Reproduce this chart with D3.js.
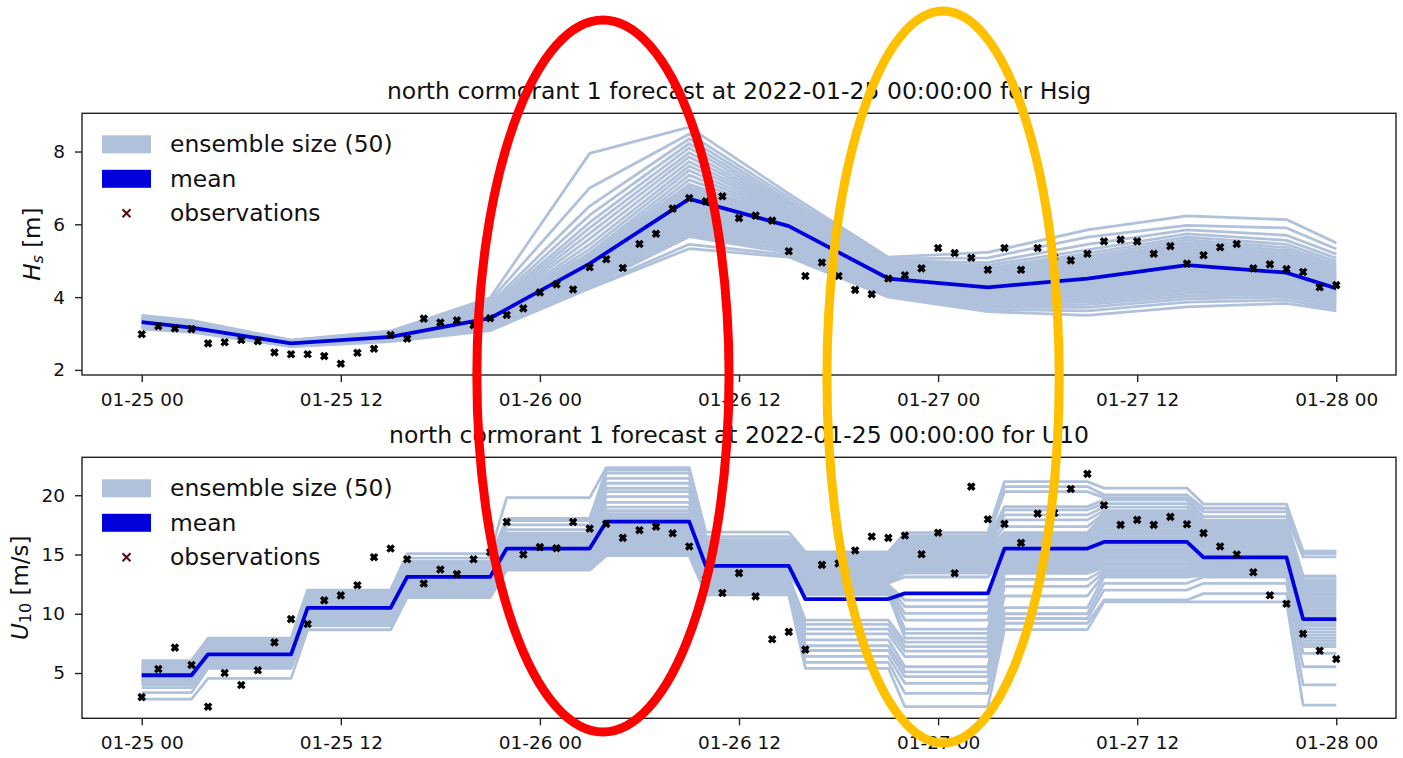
<!DOCTYPE html>
<html>
<head>
<meta charset="utf-8">
<script src="https://cdn.jsdelivr.net/npm/d3@7"></script>
<style>
  body { margin: 0; background: #fff; }
  text { font-family: "DejaVu Sans", sans-serif; }
</style>
</head>
<body>
<svg id="chart" width="1403" height="758"></svg>
<script>
// ---- data (hours after 2022-01-25 00:00 UTC) ----
const hsEnsHours = [0, 3, 9, 15, 21, 27, 33, 39, 45, 51, 57, 63, 69, 72];
// ensemble Hs values at each forecast step, sorted low -> high (one column per member)
const hsEnsemble = [
  [3.12,3.14,3.15,3.17,3.18,3.19,3.20,3.21,3.22,3.23,3.24,3.24,3.25,3.26,3.27,3.27,3.28,3.29,3.29,3.30,3.31,3.31,3.32,3.33,3.33,3.34,3.35,3.36,3.36,3.37,3.38,3.39,3.40,3.41,3.42,3.43,3.44,3.46,3.48,3.50],
  [3.04,3.06,3.07,3.08,3.09,3.10,3.11,3.11,3.12,3.12,3.13,3.13,3.14,3.14,3.15,3.15,3.15,3.16,3.16,3.16,3.17,3.17,3.18,3.18,3.19,3.19,3.20,3.20,3.21,3.22,3.22,3.23,3.24,3.25,3.26,3.27,3.29,3.31,3.33,3.36],
  [2.64,2.65,2.66,2.67,2.67,2.68,2.68,2.69,2.69,2.70,2.70,2.70,2.71,2.71,2.71,2.72,2.72,2.72,2.73,2.73,2.73,2.73,2.74,2.74,2.74,2.75,2.75,2.75,2.76,2.76,2.77,2.77,2.78,2.78,2.79,2.79,2.80,2.81,2.81,2.82],
  [2.78,2.80,2.81,2.82,2.83,2.84,2.84,2.85,2.86,2.86,2.87,2.87,2.88,2.88,2.89,2.89,2.90,2.90,2.90,2.91,2.91,2.92,2.92,2.92,2.93,2.93,2.94,2.94,2.95,2.95,2.96,2.97,2.97,2.98,2.99,3.00,3.01,3.03,3.05,3.07],
  [3.08,3.12,3.15,3.18,3.20,3.22,3.24,3.26,3.27,3.29,3.30,3.31,3.33,3.34,3.35,3.36,3.37,3.38,3.39,3.40,3.41,3.42,3.43,3.44,3.45,3.47,3.48,3.50,3.52,3.54,3.56,3.58,3.61,3.64,3.67,3.71,3.76,3.82,3.90,3.98],
  [4.24,4.27,4.31,4.36,4.38,4.42,4.45,4.46,4.50,4.54,4.57,4.58,4.62,4.66,4.68,4.72,4.75,4.77,4.81,4.84,4.86,4.90,4.93,4.96,4.99,5.02,5.06,5.10,5.14,5.21,5.32,5.45,5.60,5.75,5.90,6.05,6.25,6.50,7.00,7.95],
  [5.33,5.45,5.66,5.70,5.75,5.80,5.86,5.91,5.97,6.02,6.08,6.13,6.19,6.24,6.30,6.35,6.41,6.46,6.52,6.58,6.63,6.69,6.75,6.82,6.88,6.95,7.02,7.10,7.22,7.35,7.48,7.60,7.72,7.85,7.97,8.10,8.22,8.35,8.48,8.67],
  [5.10,5.16,5.22,5.30,5.36,5.42,5.47,5.52,5.56,5.60,5.64,5.68,5.72,5.76,5.80,5.84,5.88,5.91,5.94,5.97,6.00,6.03,6.06,6.09,6.12,6.15,6.18,6.21,6.24,6.27,6.30,6.34,6.38,6.42,6.47,6.52,6.58,6.65,6.74,6.84],
  [4.00,4.06,4.11,4.15,4.19,4.22,4.25,4.28,4.31,4.33,4.36,4.38,4.40,4.42,4.44,4.46,4.48,4.50,4.52,4.54,4.56,4.58,4.60,4.62,4.64,4.66,4.68,4.70,4.72,4.74,4.77,4.80,4.83,4.86,4.89,4.92,4.96,5.00,5.05,5.10],
  [3.60,3.66,3.72,3.77,3.82,3.86,3.90,3.94,3.97,4.00,4.03,4.06,4.09,4.12,4.15,4.17,4.19,4.21,4.24,4.26,4.28,4.31,4.34,4.37,4.40,4.43,4.46,4.49,4.52,4.55,4.58,4.62,4.66,4.70,4.75,4.80,4.87,4.95,5.08,5.23],
  [3.50,3.62,3.72,3.80,3.87,3.93,3.99,4.05,4.10,4.15,4.19,4.23,4.27,4.31,4.35,4.38,4.41,4.44,4.47,4.50,4.53,4.56,4.59,4.62,4.65,4.68,4.72,4.76,4.80,4.84,4.89,4.94,4.99,5.05,5.12,5.20,5.30,5.45,5.65,5.85],
  [3.73,3.86,3.95,4.03,4.10,4.17,4.23,4.29,4.35,4.40,4.45,4.50,4.55,4.60,4.64,4.68,4.72,4.76,4.80,4.84,4.88,4.92,4.96,5.00,5.04,5.08,5.12,5.17,5.22,5.27,5.32,5.38,5.44,5.50,5.57,5.65,5.74,5.85,5.97,6.23],
  [3.83,3.92,4.00,4.07,4.13,4.18,4.23,4.27,4.31,4.35,4.39,4.43,4.47,4.50,4.53,4.56,4.59,4.62,4.65,4.68,4.71,4.74,4.77,4.80,4.83,4.87,4.91,4.95,4.99,5.04,5.09,5.15,5.21,5.28,5.36,5.45,5.56,5.70,5.90,6.13],
  [3.62,3.68,3.74,3.79,3.83,3.87,3.91,3.94,3.97,4.00,4.03,4.06,4.09,4.12,4.15,4.18,4.21,4.24,4.27,4.30,4.33,4.36,4.39,4.42,4.45,4.48,4.51,4.55,4.59,4.63,4.67,4.72,4.77,4.83,4.90,4.98,5.07,5.18,5.32,5.49]
];
const hsMean = [3.31, 3.16, 2.73, 2.91, 3.42, 4.92, 6.70, 5.95, 4.51, 4.27, 4.51, 4.88, 4.67, 4.24];
const hsObs = [
  2.98,3.20,3.14,3.12,2.73,2.76,2.82,2.79,2.48,2.43,
  2.43,2.38,2.17,2.47,2.58,2.96,2.86,3.41,3.30,3.36,
  3.23,3.42,3.51,3.69,4.13,4.35,4.21,4.82,5.04,4.80,
  5.46,5.74,6.43,6.72,6.63,6.77,6.17,6.24,6.10,5.26,
  4.58,4.95,4.58,4.20,4.08,4.51,4.60,4.79,5.35,5.21,
  5.08,4.75,5.35,4.75,5.35,5.10,5.01,5.19,5.53,5.58,
  5.53,5.19,5.40,4.92,5.15,5.37,5.46,4.79,4.90,4.77,
  4.69,4.27,4.33
];

// U10 forecasts are constant over 6-hour blocks
const u10BlockStart = [0, 4, 10, 16, 22, 28, 34, 40, 46, 52, 58, 64, 70];
const u10BlockEnd   = [3, 9, 15, 21, 27, 33, 39, 45, 51, 57, 63, 69, 72];
const u10Ensemble = [
  [2.80,3.35,3.77,4.00,4.06,4.12,4.18,4.24,4.30,4.35,4.40,4.45,4.50,4.55,4.60,4.65,4.70,4.75,4.80,4.85,4.90,4.95,5.00,5.05,5.10,5.15,5.20,5.25,5.30,5.36,5.42,5.48,5.54,5.60,5.66,5.72,5.80,5.88,5.96,6.04],
  [4.55,5.40,5.50,5.60,5.68,5.76,5.84,5.92,6.00,6.07,6.14,6.20,6.26,6.32,6.38,6.44,6.50,6.55,6.60,6.65,6.70,6.75,6.80,6.85,6.90,6.95,7.00,7.05,7.10,7.16,7.22,7.28,7.34,7.40,7.47,7.54,7.62,7.70,7.82,7.94],
  [8.65,9.00,9.20,9.32,9.44,9.55,9.65,9.74,9.83,9.91,9.99,10.07,10.14,10.21,10.28,10.35,10.42,10.49,10.56,10.63,10.70,10.77,10.84,10.91,10.98,11.05,11.12,11.19,11.26,11.33,11.40,11.47,11.54,11.61,11.68,11.75,11.82,11.88,11.94,12.00],
  [11.37,11.50,11.62,11.74,11.85,11.95,12.05,12.15,12.25,12.35,12.45,12.54,12.63,12.72,12.81,12.90,12.98,13.06,13.14,13.22,13.30,13.38,13.46,13.54,13.62,13.70,13.78,13.86,13.94,14.02,14.10,14.17,14.24,14.30,14.34,14.37,14.38,14.40,14.70,15.08],
  [13.68,13.80,13.92,14.04,14.15,14.26,14.37,14.48,14.58,14.68,14.78,14.88,14.97,15.06,15.15,15.24,15.33,15.42,15.51,15.60,15.69,15.78,15.87,15.96,16.05,16.14,16.23,16.32,16.41,16.50,16.58,16.66,16.74,16.80,17.10,17.50,17.85,17.95,18.05,19.80],
  [14.90,15.02,15.14,15.26,15.38,15.50,15.62,15.74,15.86,15.98,16.10,16.22,16.34,16.46,16.58,16.70,16.82,16.94,17.06,17.18,17.30,17.43,17.56,17.69,17.82,17.95,18.10,18.25,18.45,18.70,19.00,19.40,19.88,20.30,20.59,21.01,21.43,21.86,22.13,22.33],
  [11.60,11.80,12.00,12.18,12.35,12.50,12.65,12.80,12.93,13.06,13.18,13.30,13.42,13.53,13.64,13.75,13.86,13.96,14.06,14.16,14.26,14.36,14.46,14.56,14.66,14.76,14.86,14.96,15.06,15.17,15.28,15.40,15.52,15.65,15.78,15.92,16.08,16.26,16.50,16.88],
  [5.40,5.90,6.40,6.90,7.30,7.80,8.30,8.70,9.10,9.47,11.60,11.75,11.90,12.04,12.18,12.32,12.45,12.58,12.71,12.84,12.96,13.08,13.20,13.32,13.44,13.56,13.68,13.80,13.92,14.04,14.16,14.28,14.40,14.52,14.64,14.76,14.88,15.00,15.11,15.22],
  [2.16,3.29,4.13,4.69,5.10,5.53,6.38,6.85,7.22,7.60,7.95,8.34,8.70,9.47,10.03,10.60,11.15,13.10,13.42,13.60,13.78,13.95,14.12,14.28,14.44,14.60,14.75,14.90,15.05,15.20,15.35,15.50,15.65,15.80,15.95,16.10,16.26,16.42,16.60,16.84],
  [8.66,9.20,9.60,10.00,10.52,11.50,12.31,12.90,13.40,13.55,13.70,13.85,14.00,14.15,14.30,14.45,14.60,14.75,14.90,15.05,15.20,15.35,15.50,15.65,15.80,15.95,16.10,16.25,16.40,16.55,16.70,16.85,17.35,17.92,18.34,18.76,19.04,20.30,20.73,21.15],
  [11.00,11.16,12.00,12.57,13.10,13.30,13.50,13.70,13.90,14.10,14.30,14.50,14.70,14.90,15.10,15.30,15.50,15.70,15.90,16.10,16.30,16.50,16.70,16.90,17.10,17.30,17.50,17.70,17.90,18.05,18.20,18.35,18.48,18.70,19.00,19.30,19.60,19.80,20.03,20.60],
  [11.00,11.70,12.57,13.10,13.25,13.40,13.55,13.70,13.85,14.00,14.15,14.30,14.45,14.60,14.75,14.90,15.05,15.20,15.35,15.50,15.65,15.80,15.95,16.10,16.25,16.40,16.55,16.70,16.85,17.00,17.15,17.30,17.45,17.60,17.75,17.90,18.20,18.60,18.90,19.25],
  [2.30,4.00,5.53,6.66,7.22,7.45,7.70,7.95,8.20,8.45,8.70,8.95,9.15,9.35,9.55,9.75,9.95,10.15,10.35,10.55,10.75,10.95,11.15,11.35,11.55,11.72,11.86,12.00,12.15,12.30,12.40,12.52,12.65,12.85,13.10,13.20,14.80,15.08,15.18,15.28]
];
const u10Mean = [4.81, 6.58, 10.50, 13.11, 15.50, 17.77, 14.04, 11.24, 11.72, 15.50, 16.06, 14.75, 9.55];
const u10Obs = [
  2.97,5.34,7.14,5.68,2.16,5.00,3.99,5.23,7.59,9.55,
  9.13,11.13,11.55,12.41,14.77,15.50,14.60,12.55,13.73,13.34,
  14.60,15.20,17.74,15.00,15.62,15.53,17.74,17.18,17.58,16.40,
  17.05,17.35,16.79,15.68,12.90,11.75,13.43,11.47,7.85,8.47,
  6.97,14.12,14.24,15.34,16.52,16.40,16.60,15.02,16.84,13.42,
  20.73,17.97,17.58,15.98,18.45,18.50,20.53,21.80,19.16,17.50,
  17.92,17.50,18.17,17.55,16.80,15.68,15.00,13.50,11.56,10.84,
  8.31,6.88,6.18
];

const xTickHours = [0, 12, 24, 36, 48, 60, 72];
const hsTicks = [2, 4, 6, 8];
const u10Ticks = [5, 10, 15, 20];
const legendLabels = ["ensemble size (50)", "mean", "observations"];
// highlighted forecast windows (hours), drawn over both panels
const highlights = [
  { from: 20.2, to: 35.4, color: "#ff0000" },
  { from: 41.3, to: 55.3, color: "#ffc000" }
];

// ---- drawing ----
const svg = d3.select("#chart");
const start = Date.UTC(2022, 0, 25, 0);
const toDate = h => new Date(start + h * 3600e3);
const ensColor = "#b0c1dc", meanColor = "#0000dd";

const x = d3.scaleTime()
  .domain([toDate(-3.6), toDate(75.6)])
  .range([82, 1396]);

const line = (y) => d3.line().x(d => x(toDate(d[0]))).y(d => y(d[1]));

function xMark(r) { return `M${-r},${-r}L${r},${r}M${-r},${r}L${r},${-r}`; }

function drawPanel(cfg) {
  const y = d3.scaleLinear().domain(cfg.yDomain).range([cfg.bottom, cfg.top]);
  const g = svg.append("g");
  const ln = line(y);

  g.append("g").selectAll("path").data(cfg.members).join("path")
    .attr("d", ln)
    .attr("fill", "none")
    .attr("stroke", ensColor)
    .attr("stroke-width", 2.8)
    .attr("stroke-linejoin", "round");

  g.append("path").datum(cfg.mean)
    .attr("d", ln)
    .attr("fill", "none")
    .attr("stroke", meanColor)
    .attr("stroke-width", 3.8)
    .attr("stroke-linejoin", "round");

  g.append("g").selectAll("path").data(cfg.obs.map((v, h) => [h, v])).join("path")
    .attr("transform", d => `translate(${x(toDate(d[0]))},${y(d[1])})`)
    .attr("d", xMark(3.1))
    .attr("stroke", "#000")
    .attr("stroke-width", 3.4);

  // axes
  const xAxis = d3.axisBottom(x)
    .tickValues(xTickHours.map(toDate))
    .tickFormat(d3.utcFormat("%m-%d %H"))
    .tickSize(7).tickPadding(11).tickSizeOuter(0);
  const gx = g.append("g").attr("transform", `translate(0,${cfg.bottom})`).call(xAxis);
  const yAxis = d3.axisLeft(y).tickValues(cfg.ticks).tickSize(7).tickPadding(10).tickSizeOuter(0);
  const gy = g.append("g").attr("transform", `translate(${x.range()[0]},0)`).call(yAxis);
  [gx, gy].forEach(a => {
    a.select(".domain").remove();
    a.attr("font-size", 18.5).attr("font-family", "DejaVu Sans");
    a.selectAll(".tick line").attr("stroke", "#222").attr("stroke-width", 1.4);
    a.selectAll(".tick text").attr("fill", "#111");
  });

  g.append("rect")
    .attr("x", x.range()[0]).attr("y", cfg.top)
    .attr("width", x.range()[1] - x.range()[0]).attr("height", cfg.bottom - cfg.top)
    .attr("fill", "none").attr("stroke", "#222").attr("stroke-width", 1.4);

  // title
  g.append("text")
    .attr("x", (x.range()[0] + x.range()[1]) / 2).attr("y", cfg.top - 14)
    .attr("text-anchor", "middle").attr("font-size", 23.5).attr("fill", "#111")
    .text(cfg.title);

  // y label
  const yl = g.append("text")
    .attr("transform", `translate(${cfg.labelX},${(cfg.top + cfg.bottom) / 2}) rotate(-90)`)
    .attr("text-anchor", "middle").attr("dominant-baseline", "central")
    .attr("font-size", 23).attr("fill", "#111");
  yl.append("tspan").attr("font-style", "italic").text(cfg.sym);
  yl.append("tspan").attr("font-style", cfg.subItalic ? "italic" : "normal")
    .attr("font-size", 16).attr("dy", 5).text(cfg.sub);
  yl.append("tspan").attr("dy", -5).text("\u00a0" + cfg.unit);

  // legend
  const lg = g.append("g").attr("transform", `translate(102,${cfg.top + 22})`);
  lg.append("rect").attr("x", 0).attr("y", 0).attr("width", 49).attr("height", 18).attr("fill", ensColor);
  lg.append("rect").attr("x", 0).attr("y", 34.5).attr("width", 49).attr("height", 18).attr("fill", meanColor);
  lg.append("path").attr("transform", "translate(24.5,78)").attr("d", xMark(4))
    .attr("stroke", "#5a0a0a").attr("stroke-width", 2);
  lg.selectAll("text").data(legendLabels).join("text")
    .attr("x", 68).attr("y", (d, i) => 9 + i * 34.5)
    .attr("dominant-baseline", "central")
    .attr("font-size", 23.4).attr("fill", "#111")
    .text(d => d);
}

drawPanel({
  top: 113.3, bottom: 375, yDomain: [1.86, 9.05], ticks: hsTicks,
  members: d3.range(hsEnsemble[0].length).map(m => hsEnsHours.map((h, i) => [h, hsEnsemble[i][m]])),
  mean: hsEnsHours.map((h, i) => [h, hsMean[i]]),
  obs: hsObs,
  title: "north cormorant 1 forecast at 2022-01-25 00:00:00 for Hsig",
  labelX: 32, sym: "H", sub: "s", subItalic: true, unit: "[m]"
});

const u10Pts = vals => vals.flatMap((v, b) => [[u10BlockStart[b], v], [u10BlockEnd[b], v]]);
drawPanel({
  top: 457.3, bottom: 718.3, yDomain: [1.18, 23.2], ticks: u10Ticks,
  members: d3.range(u10Ensemble[0].length).map(m => u10Pts(u10Ensemble.map(col => col[m]))),
  mean: u10Pts(u10Mean),
  obs: u10Obs,
  title: "north cormorant 1 forecast at 2022-01-25 00:00:00 for U10",
  labelX: 20, sym: "U", sub: "10", subItalic: false, unit: "[m/s]"
});

// highlight ellipses spanning both panels
svg.append("g").selectAll("ellipse").data(highlights).join("ellipse")
  .attr("cx", d => (x(toDate(d.from)) + x(toDate(d.to))) / 2)
  .attr("rx", d => (x(toDate(d.to)) - x(toDate(d.from))) / 2)
  .attr("cy", (d, i) => i === 0 ? 376 : 377)
  .attr("ry", (d, i) => i === 0 ? 356 : 366)
  .attr("fill", "none")
  .attr("stroke", d => d.color)
  .attr("stroke-width", 9);
</script>
</body>
</html>
